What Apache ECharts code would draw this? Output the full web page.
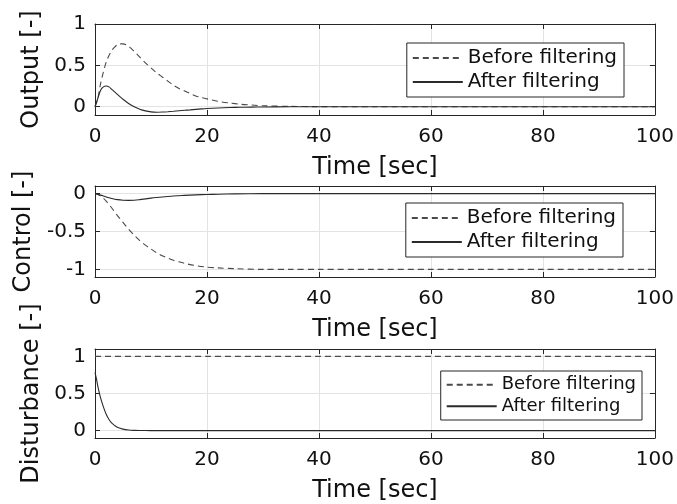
<!DOCTYPE html>
<html>
<head>
<meta charset="utf-8">
<script src="https://cdn.jsdelivr.net/npm/echarts@6/dist/echarts.min.js"></script>
<style>html,body{margin:0;padding:0;background:#fff;}#c{width:677px;height:504px;}</style>
</head>
<body>
<div id="c"></div>
<script>
// ---- data ----
const xTicks = [0, 20, 40, 60, 80, 100];
const seriesNames = ['Before filtering', 'After filtering'];

const timeOutput = [0,0.5,1,1.5,2,2.5,3,3.5,4,4.5,5,6,7,8,9,10,11,12,13,14,15,16,17,18,19,20,22,24,26,28,30,35,40,50,60,70,80,90,100];
const outputBefore = [0,0.1,0.28,0.42,0.54,0.62,0.68,0.72,0.75,0.76,0.76,0.73,0.67,0.6,0.53,0.47,0.41,0.36,0.31,0.26,0.22,0.19,0.16,0.13,0.11,0.095,0.065,0.045,0.03,0.02,0.012,0.004,0.001,0,0,0,0,0,0];
const outputAfter = [0,0.1,0.2,0.24,0.25,0.24,0.21,0.18,0.15,0.12,0.09,0.04,0.0,-0.03,-0.05,-0.062,-0.066,-0.064,-0.06,-0.055,-0.049,-0.043,-0.038,-0.032,-0.026,-0.021,-0.015,-0.01,-0.007,-0.005,-0.003,-0.001,0,0,0,0,0,0,0];
const outputTicks = [0, 0.5, 1];

const timeControl = [0,1,2,3,4,5,6,7,8,9,10,11,12,13,14,15,16,18,20,22,25,30,35,40,50,60,70,80,90,100];
const controlBefore = [0,-0.03,-0.1,-0.19,-0.29,-0.38,-0.47,-0.55,-0.62,-0.68,-0.73,-0.78,-0.82,-0.85,-0.88,-0.9,-0.92,-0.95,-0.97,-0.98,-0.99,-1,-1,-1,-1,-1,-1,-1,-1,-1];
const controlAfter = [0,-0.02,-0.045,-0.065,-0.08,-0.088,-0.09,-0.088,-0.08,-0.07,-0.06,-0.052,-0.045,-0.038,-0.032,-0.028,-0.024,-0.017,-0.012,-0.008,-0.004,-0.001,0,0,0,0,0,0,0,0];
const controlTicks = [-1, -0.5, 0];

const timeDist = [0,0.25,0.5,1,1.5,2,2.5,3,3.5,4,5,6,7,8,10,20,40,60,80,100];
const distBefore = [1,1,1,1,1,1,1,1,1,1,1,1,1,1,1,1,1,1,1,1];
const distAfter = [0.78,0.7,0.6,0.44,0.32,0.22,0.15,0.1,0.07,0.045,0.02,0.008,0.003,0.001,0,0,0,0,0,0];
const distTicks = [0, 0.5, 1];

// ---- build ----
const FONT = 'DejaVu Sans';
const AX = '#262626';
const GRIDC = '#e3e3e3';
const zip = (t, v) => t.map((x, i) => [x, v[i]]);

const panels = [
  {top: 24, height: 91, ymin: -0.1, ymax: 1, ticks: outputTicks, name: 'Output [-]', nameGap: 51,
   t: timeOutput, a: outputBefore, b: outputAfter, leg: {right: 53, top: 43, fs: 20, lh: 24, pr: 7}},
  {top: 186, height: 91, ymin: -1.1, ymax: 0.1, ticks: controlTicks, name: 'Control [-]', nameGap: 59,
   t: timeControl, a: controlBefore, b: controlAfter, leg: {right: 54, top: 203, fs: 20, lh: 24, pr: 7}},
  {top: 349, height: 92, ymin: -0.1, ymax: 1.1, ticks: distTicks, name: 'Disturbance [-]', nameGap: 51,
   t: timeDist, a: distBefore, b: distAfter, leg: {right: 35, top: 371, fs: 18, lh: 21.5, pr: 6}}
];

const grid = [], xAxis = [], yAxis = [], series = [], legend = [];
panels.forEach((p, i) => {
  grid.push({left: 95, right: 22, top: p.top, height: p.height, containLabel: false});
  const axLine = {show: true, onZero: false, lineStyle: {color: AX, width: 1}};
  const tick = {show: true, inside: true, length: 5, lineStyle: {color: AX, width: 1}};
  // main x
  xAxis.push({type: 'value', gridIndex: i, min: 0, max: 100, interval: 20, position: 'bottom',
    axisLine: axLine, axisTick: tick,
    axisLabel: {color: '#111', fontFamily: FONT, fontSize: 20, margin: 12},
    splitLine: {show: true, lineStyle: {color: GRIDC, width: 1}},
    name: 'Time [sec]', nameLocation: 'middle', nameGap: 41, nameMoveOverlap: false,
    nameTextStyle: {color: '#111', fontFamily: FONT, fontSize: 24}});
  // top mirror x
  xAxis.push({type: 'value', gridIndex: i, min: 0, max: 100, interval: 20, position: 'top',
    axisLine: axLine, axisTick: tick, axisLabel: {show: false}, splitLine: {show: false}});
  // main y
  yAxis.push({type: 'value', gridIndex: i, min: p.ymin, max: p.ymax, position: 'left',
    axisLine: axLine,
    axisTick: Object.assign({}, tick, {customValues: p.ticks}),
    axisLabel: {color: '#111', fontFamily: FONT, fontSize: 20, margin: 9, customValues: p.ticks},
    splitLine: {show: true, lineStyle: {color: GRIDC, width: 1}},
    name: p.name, nameLocation: 'middle', nameGap: p.nameGap, nameMoveOverlap: false,
    nameTextStyle: {color: '#111', fontFamily: FONT, fontSize: 24}});
  // right mirror y
  yAxis.push({type: 'value', gridIndex: i, min: p.ymin, max: p.ymax, position: 'right',
    axisLine: axLine,
    axisTick: Object.assign({}, tick, {customValues: p.ticks}),
    axisLabel: {show: false, customValues: p.ticks}, splitLine: {show: false}});

  const xi = i * 2, yi = i * 2;
  series.push({type: 'line', name: seriesNames[0], xAxisIndex: xi, yAxisIndex: yi,
    data: zip(p.t, p.a), showSymbol: false, symbol: 'none', smooth: 0.3,
    lineStyle: {color: '#4a4a4a', width: 1.1, type: [6, 4]}, itemStyle: {color: '#4a4a4a'}, z: 3});
  series.push({type: 'line', name: seriesNames[1], xAxisIndex: xi, yAxisIndex: yi,
    data: zip(p.t, p.b), showSymbol: false, symbol: 'none', smooth: 0.3,
    lineStyle: {color: '#2a2a2a', width: 1.1, type: 'solid'}, itemStyle: {color: '#2a2a2a'}, z: 4});

  legend.push({data: seriesNames, orient: 'vertical', right: p.leg.right, top: p.leg.top,
    backgroundColor: '#fff', borderColor: AX, borderWidth: 1, borderRadius: 0,
    padding: [3, p.leg.pr, 3, 5], itemGap: 0, itemWidth: 50, itemHeight: p.leg.lh,
    selectedMode: false,
    itemStyle: {opacity: 0, borderWidth: 0},
    textStyle: {color: '#111', fontFamily: FONT, fontSize: p.leg.fs, lineHeight: p.leg.lh}});
});

const chart = echarts.init(document.getElementById('c'), null, {renderer: 'canvas'});
chart.setOption({animation: false, backgroundColor: '#fff', grid, xAxis, yAxis, series, legend});
</script>
</body>
</html>
